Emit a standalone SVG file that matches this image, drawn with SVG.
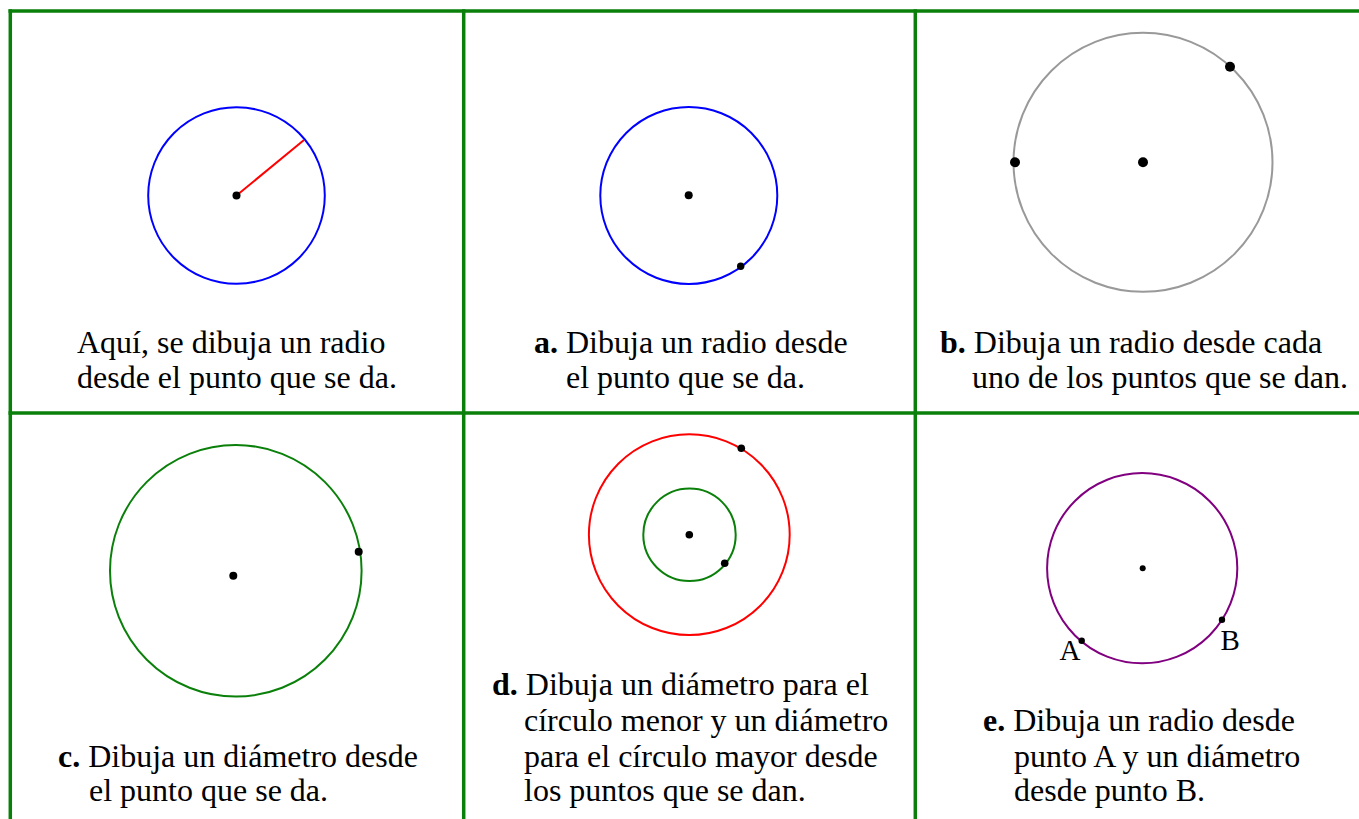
<svg xmlns="http://www.w3.org/2000/svg" width="1359" height="819" viewBox="0 0 1359 819">
<style>
.grid{stroke:#0a800a;stroke-width:3.5;fill:none}
.circ{fill:none;stroke-width:2}
.dot{fill:#000}
.t{font-family:"Liberation Serif","Times New Roman",serif;font-size:32px;fill:#000}
.lbl{font-family:"Liberation Serif","Times New Roman",serif;font-size:29px;fill:#000}
.b{font-weight:bold}
</style>
<rect width="1359" height="819" fill="#fff"/>
<g id="grid">
<line class="grid" x1="8.5" y1="11" x2="1359" y2="11"/>
<line class="grid" x1="8.5" y1="413" x2="1359" y2="413"/>
<line class="grid" x1="10.3" y1="9.3" x2="10.3" y2="819"/>
<line class="grid" x1="463.7" y1="9.3" x2="463.7" y2="819"/>
<line class="grid" x1="915.3" y1="9.3" x2="915.3" y2="819"/>
</g>
<g id="ejemplo">
<circle class="circ" cx="236.5" cy="195.5" r="88.3" stroke="#0000ff"/>
<line x1="236.5" y1="195.5" x2="304" y2="140" stroke="#ff0000" stroke-width="2"/>
<circle class="dot" cx="236.5" cy="195.5" r="4"/>
<text class="t" x="77" y="353">Aquí, se dibuja un radio</text>
<text class="t" x="77" y="388">desde el punto que se da.</text>
</g>
<g id="panel-a">
<circle class="circ" cx="688.8" cy="195.5" r="88.5" stroke="#0000ff"/>
<circle class="dot" cx="688.7" cy="195.3" r="4"/>
<circle class="dot" cx="740.7" cy="266.3" r="3.7"/>
<text class="t" x="534" y="353"><tspan class="b">a.</tspan> Dibuja un radio desde</text>
<text class="t" x="566" y="388">el punto que se da.</text>
</g>
<g id="panel-b">
<circle class="circ" cx="1143" cy="162.3" r="129.5" stroke="#999999"/>
<circle class="dot" cx="1143" cy="162.3" r="5"/>
<circle class="dot" cx="1015" cy="162.3" r="5"/>
<circle class="dot" cx="1230" cy="66.7" r="5"/>
<text class="t" x="940" y="353"><tspan class="b">b.</tspan> Dibuja un radio desde cada</text>
<text class="t" x="972" y="388">uno de los puntos que se dan.</text>
</g>
<g id="panel-c">
<circle class="circ" cx="235.8" cy="570.8" r="125.8" stroke="#0a800a"/>
<circle class="dot" cx="233.3" cy="575.7" r="4"/>
<circle class="dot" cx="358.7" cy="551.7" r="4"/>
<text class="t" x="58" y="766.5"><tspan class="b">c.</tspan> Dibuja un diámetro desde</text>
<text class="t" x="89" y="801">el punto que se da.</text>
</g>
<g id="panel-d">
<circle class="circ" cx="689.3" cy="534.7" r="100.4" stroke="#ff0000"/>
<circle class="circ" cx="689.5" cy="534.8" r="46.2" stroke="#0a800a"/>
<circle class="dot" cx="689.3" cy="534.7" r="3.8"/>
<circle class="dot" cx="741.3" cy="448.3" r="3.8"/>
<circle class="dot" cx="724.7" cy="563.3" r="3.8"/>
<text class="t" x="492" y="695"><tspan class="b">d.</tspan> Dibuja un diámetro para el</text>
<text class="t" x="524" y="731">círculo menor y un diámetro</text>
<text class="t" x="524" y="766.5">para el círculo mayor desde</text>
<text class="t" x="524" y="801">los puntos que se dan.</text>
</g>
<g id="panel-e">
<circle class="circ" cx="1142.2" cy="568.2" r="95.1" stroke="#800080"/>
<circle class="dot" cx="1142.7" cy="568.3" r="3"/>
<circle class="dot" cx="1081.7" cy="640.7" r="3.2"/>
<circle class="dot" cx="1222" cy="619.7" r="3.2"/>
<text class="lbl" x="1059.5" y="660">A</text>
<text class="lbl" x="1220.5" y="650">B</text>
<text class="t" x="983" y="731"><tspan class="b">e.</tspan> Dibuja un radio desde</text>
<text class="t" x="1014" y="766.5">punto A y un diámetro</text>
<text class="t" x="1014" y="801">desde punto B.</text>
</g>
</svg>
